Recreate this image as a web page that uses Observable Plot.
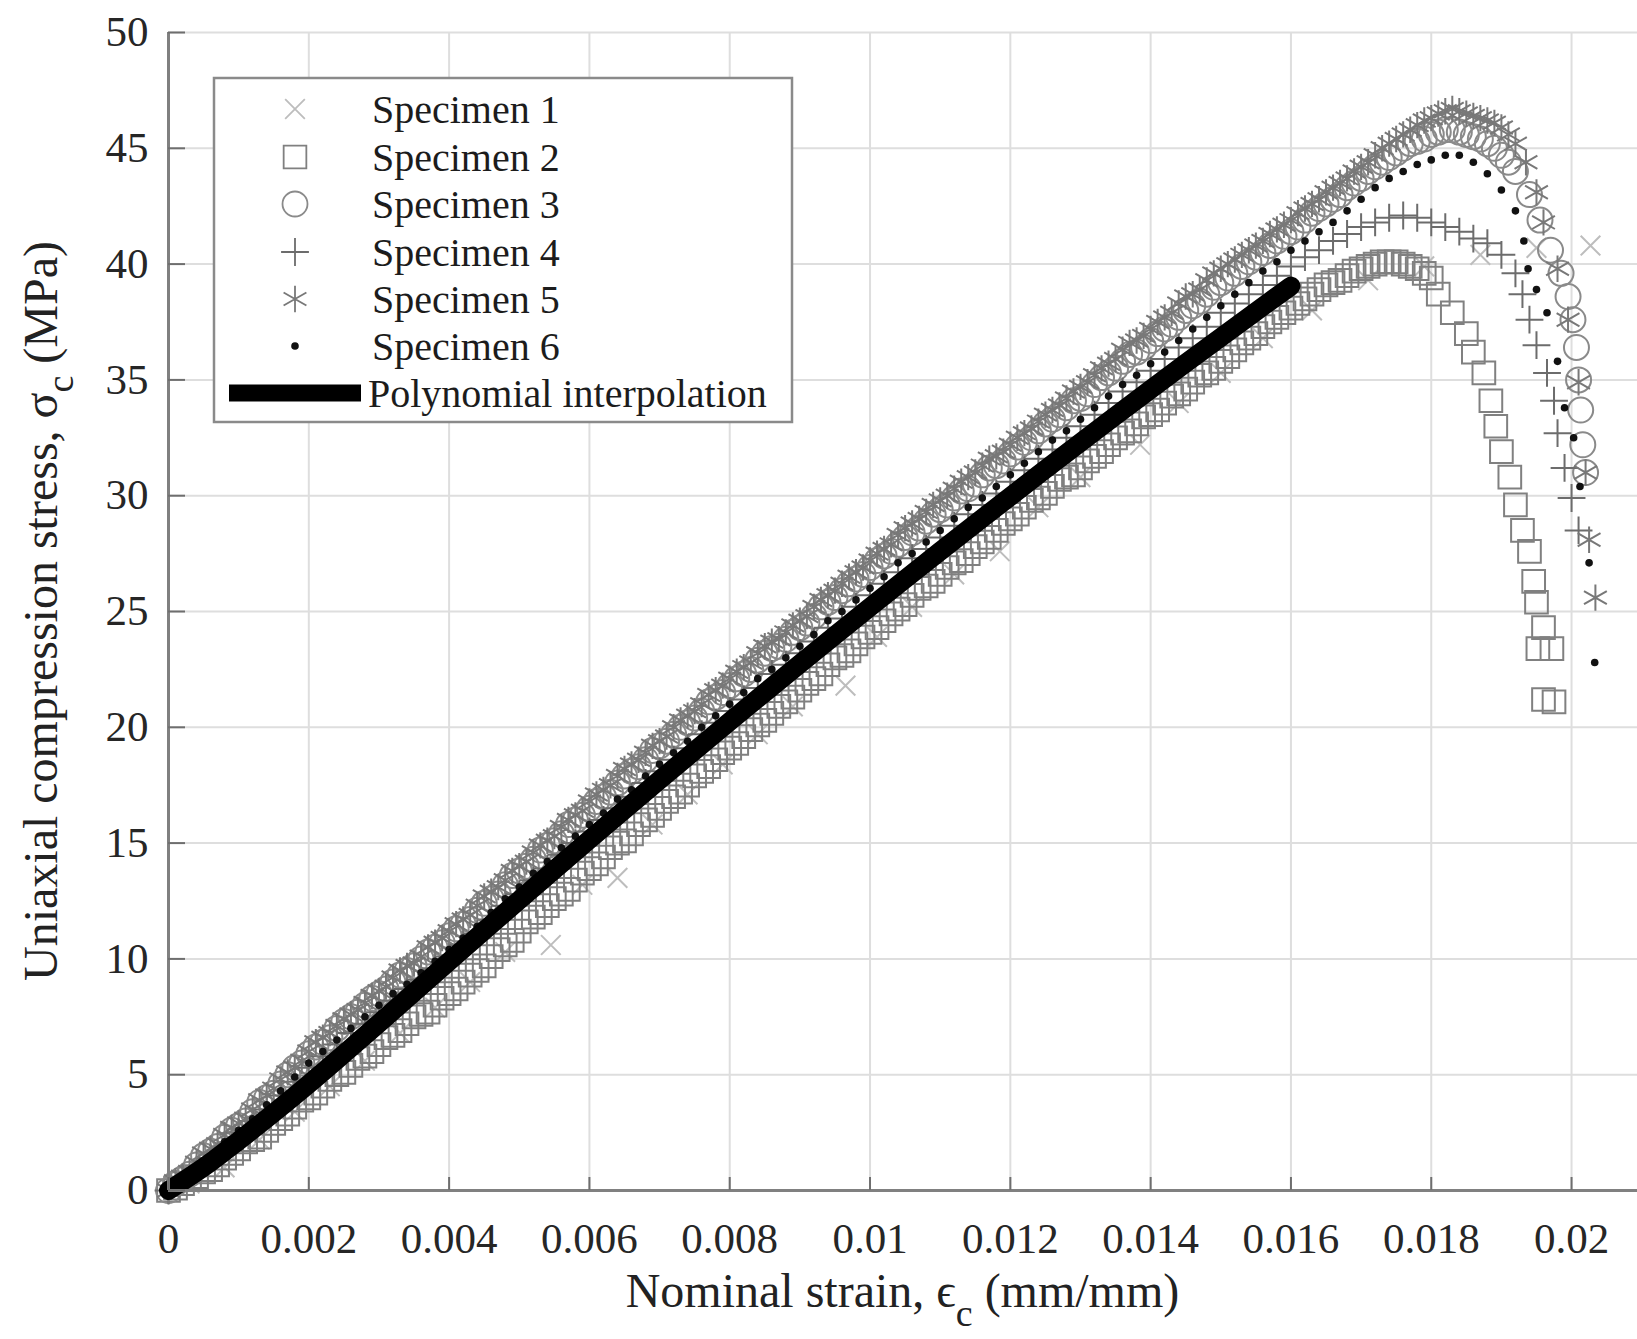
<!DOCTYPE html>
<html>
<head>
<meta charset="utf-8">
<script src="https://cdn.jsdelivr.net/npm/d3@7"></script>
<script src="https://cdn.jsdelivr.net/npm/@observablehq/plot@0.6"></script>
<style>
  html, body { margin: 0; padding: 0; background: #ffffff; }
  #chart svg { display: block; }
</style>
</head>
<body>
<div id="chart"></div>
<script>
// ---- Axis ticks ----
const xTicks = [0, 0.002, 0.004, 0.006, 0.008, 0.01, 0.012, 0.014, 0.016, 0.018, 0.02];
const xTickLabels = ["0", "0.002", "0.004", "0.006", "0.008", "0.01", "0.012", "0.014", "0.016", "0.018", "0.02"];
const yTicks = [0, 5, 10, 15, 20, 25, 30, 35, 40, 45, 50];
const yTickLabels = ["0", "5", "10", "15", "20", "25", "30", "35", "40", "45", "50"];

// ---- Series names ----
const specimenNames = ["Specimen 1", "Specimen 2", "Specimen 3", "Specimen 4", "Specimen 5", "Specimen 6"];
const fitName = "Polynomial interpolation";

// ---- Rising branch: strain readings (mm/mm) shared by specimens 2-6 ----
const riseStrain = [
  0, 0.0002, 0.0004, 0.0006, 0.0008, 0.001, 0.0012, 0.0014, 0.0016, 0.0018,
  0.002, 0.0022, 0.0024, 0.0026, 0.0028, 0.003, 0.0032, 0.0034, 0.0036, 0.0038,
  0.004, 0.0042, 0.0044, 0.0046, 0.0048, 0.005, 0.0052, 0.0054, 0.0056, 0.0058,
  0.006, 0.0062, 0.0064, 0.0066, 0.0068, 0.007, 0.0072, 0.0074, 0.0076, 0.0078,
  0.008, 0.0082, 0.0084, 0.0086, 0.0088, 0.009, 0.0092, 0.0094, 0.0096, 0.0098,
  0.01, 0.0102, 0.0104, 0.0106, 0.0108, 0.011, 0.0112, 0.0114, 0.0116, 0.0118,
  0.012, 0.0122, 0.0124, 0.0126, 0.0128, 0.013, 0.0132, 0.0134, 0.0136, 0.0138,
  0.014, 0.0142, 0.0144, 0.0146, 0.0148, 0.015
];
// Intermediate readings recorded by specimens 2, 3 and 5
const riseStrainMid = [
  0.0001, 0.0003, 0.0005, 0.0007, 0.0009, 0.0011, 0.0013, 0.0015, 0.0017, 0.0019,
  0.0021, 0.0023, 0.0025, 0.0027, 0.0029, 0.0031, 0.0033, 0.0035, 0.0037, 0.0039,
  0.0041, 0.0043, 0.0045, 0.0047, 0.0049, 0.0051, 0.0053, 0.0055, 0.0057, 0.0059,
  0.0061, 0.0063, 0.0065, 0.0067, 0.0069, 0.0071, 0.0073, 0.0075, 0.0077, 0.0079,
  0.0081, 0.0083, 0.0085, 0.0087, 0.0089, 0.0091, 0.0093, 0.0095, 0.0097, 0.0099,
  0.0101, 0.0103, 0.0105, 0.0107, 0.0109, 0.0111, 0.0113, 0.0115, 0.0117, 0.0119,
  0.0121, 0.0123, 0.0125, 0.0127, 0.0129, 0.0131, 0.0133, 0.0135, 0.0137, 0.0139,
  0.0141, 0.0143, 0.0145, 0.0147, 0.0149
];

// Stress (MPa) on the rising branch
const spec2Rise = [
  0.0, 0.3, 0.6, 0.9, 1.4, 1.8, 2.2, 2.6, 3.1, 3.6,
  4.0, 4.5, 5.0, 5.4, 5.8, 6.3, 6.7, 7.2, 7.6, 8.0,
  8.5, 9.0, 9.5, 10.1, 10.6, 11.2, 11.8, 12.3, 12.8, 13.4,
  13.9, 14.4, 15.0, 15.4, 16.0, 16.5, 17.0, 17.5, 18.1, 18.6,
  19.1, 19.6, 20.1, 20.6, 21.1, 21.6, 22.1, 22.7, 23.1, 23.6,
  24.1, 24.6, 25.1, 25.7, 26.1, 26.6, 27.1, 27.5, 28.0, 28.5,
  29.0, 29.5, 29.9, 30.4, 30.8, 31.2, 31.7, 32.2, 32.7, 33.1,
  33.5, 34.0, 34.4, 34.9, 35.3, 35.8
];
const spec2RiseMid = [
  0.1, 0.5, 0.8, 1.1, 1.6, 2.1, 2.3, 2.9, 3.3, 3.9,
  4.2, 4.8, 5.1, 5.7, 6.0, 6.6, 6.9, 7.5, 7.7, 8.3,
  8.7, 9.3, 9.7, 10.4, 10.8, 11.6, 12.0, 12.6, 13.0, 13.7,
  14.1, 14.8, 15.1, 15.8, 16.2, 16.8, 17.2, 17.9, 18.3, 18.9,
  19.3, 19.9, 20.3, 20.9, 21.3, 21.9, 22.3, 23.0, 23.3, 23.9,
  24.3, 24.9, 25.3, 26.0, 26.3, 26.9, 27.2, 27.8, 28.2, 28.8,
  29.2, 29.8, 30.1, 30.7, 30.9, 31.5, 31.9, 32.5, 32.8, 33.4,
  33.7, 34.3, 34.6, 35.2, 35.5
];
const spec3Rise = [
  0.0, 0.5, 1.1, 1.7, 2.3, 2.8, 3.4, 4.0, 4.6, 5.3,
  5.9, 6.4, 7.0, 7.5, 8.0, 8.5, 9.0, 9.5, 10.0, 10.5,
  11.0, 11.5, 12.1, 12.6, 13.2, 13.8, 14.3, 14.9, 15.4, 16.0,
  16.5, 17.0, 17.6, 18.1, 18.6, 19.2, 19.7, 20.2, 20.7, 21.3,
  21.8, 22.3, 22.9, 23.4, 23.8, 24.3, 24.8, 25.4, 25.9, 26.4,
  26.9, 27.4, 27.9, 28.4, 28.9, 29.4, 29.9, 30.3, 30.9, 31.3,
  31.8, 32.3, 32.8, 33.3, 33.8, 34.2, 34.8, 35.3, 35.8, 36.2,
  36.7, 37.2, 37.7, 38.2, 38.7, 39.2
];
const spec3RiseMid = [
  0.3, 0.7, 1.5, 1.9, 2.6, 3.0, 3.8, 4.2, 5.0, 5.5,
  6.2, 6.6, 7.3, 7.7, 8.3, 8.7, 9.3, 9.7, 10.3, 10.7,
  11.3, 11.7, 12.4, 12.8, 13.6, 14.0, 14.7, 15.1, 15.8, 16.2,
  16.8, 17.2, 17.9, 18.3, 19.0, 19.4, 20.0, 20.4, 21.1, 21.5,
  22.1, 22.5, 23.2, 23.5, 24.1, 24.5, 25.2, 25.6, 26.2, 26.6,
  27.2, 27.6, 28.2, 28.6, 29.2, 29.6, 30.2, 30.5, 31.2, 31.5,
  32.1, 32.5, 33.1, 33.5, 34.1, 34.4, 35.1, 35.5, 36.1, 36.4,
  37.0, 37.4, 38.0, 38.4, 39.0
];
const spec4Rise = [
  0.0, 0.5, 0.9, 1.4, 1.9, 2.5, 3.0, 3.5, 4.1, 4.7,
  5.3, 5.8, 6.3, 6.8, 7.2, 7.7, 8.2, 8.7, 9.1, 9.6,
  10.1, 10.6, 11.1, 11.7, 12.3, 12.8, 13.4, 13.9, 14.5, 15.0,
  15.5, 16.0, 16.5, 17.0, 17.6, 18.1, 18.6, 19.1, 19.7, 20.2,
  20.7, 21.2, 21.7, 22.3, 22.7, 23.2, 23.7, 24.3, 24.7, 25.2,
  25.7, 26.2, 26.7, 27.3, 27.7, 28.2, 28.7, 29.2, 29.6, 30.1,
  30.6, 31.1, 31.6, 32.0, 32.5, 33.0, 33.5, 34.0, 34.5, 34.9,
  35.4, 35.9, 36.4, 36.8, 37.3, 37.9
];
const spec5Rise = [
  0.0, 0.6, 1.2, 1.8, 2.4, 2.9, 3.5, 4.1, 4.8, 5.3,
  6.0, 6.6, 7.1, 7.6, 8.1, 8.6, 9.2, 9.7, 10.1, 10.7,
  11.2, 11.7, 12.3, 12.9, 13.4, 14.0, 14.6, 15.1, 15.7, 16.2,
  16.8, 17.3, 17.9, 18.4, 18.9, 19.4, 20.0, 20.5, 21.0, 21.6,
  22.1, 22.6, 23.2, 23.7, 24.1, 24.6, 25.2, 25.7, 26.2, 26.7,
  27.2, 27.7, 28.3, 28.8, 29.3, 29.8, 30.3, 30.8, 31.3, 31.7,
  32.2, 32.7, 33.2, 33.7, 34.2, 34.7, 35.2, 35.7, 36.3, 36.7,
  37.2, 37.7, 38.3, 38.7, 39.3, 39.8
];
const spec5RiseMid = [
  0.4, 0.8, 1.6, 2.0, 2.7, 3.1, 3.9, 4.4, 5.1, 5.6,
  6.4, 6.8, 7.4, 7.8, 8.4, 8.8, 9.5, 9.8, 10.5, 10.9,
  11.5, 11.9, 12.7, 13.1, 13.8, 14.2, 14.9, 15.3, 16.0, 16.4,
  17.1, 17.5, 18.2, 18.6, 19.2, 19.6, 20.3, 20.7, 21.4, 21.8,
  22.4, 22.8, 23.5, 23.8, 24.4, 24.8, 25.5, 25.9, 26.5, 26.9,
  27.5, 27.9, 28.6, 29.0, 29.6, 30.0, 30.6, 31.0, 31.6, 31.9,
  32.5, 32.9, 33.5, 33.9, 34.5, 34.9, 35.5, 35.9, 36.6, 36.9,
  37.5, 37.9, 38.6, 38.9, 39.6
];
const spec6Rise = [
  0.0, 0.5, 1.0, 1.4, 2.1, 2.6, 3.1, 3.7, 4.3, 4.9,
  5.5, 6.0, 6.5, 7.0, 7.5, 8.0, 8.5, 8.9, 9.4, 9.9,
  10.4, 10.9, 11.4, 12.0, 12.6, 13.1, 13.7, 14.2, 14.8, 15.3,
  15.8, 16.3, 16.9, 17.3, 17.9, 18.4, 18.9, 19.4, 20.0, 20.5,
  21.0, 21.5, 22.1, 22.5, 23.0, 23.5, 24.0, 24.6, 25.0, 25.5,
  26.0, 26.5, 27.1, 27.5, 28.0, 28.5, 29.0, 29.5, 29.9, 30.4,
  30.9, 31.4, 31.9, 32.4, 32.8, 33.3, 33.8, 34.3, 34.8, 35.2,
  35.7, 36.2, 36.7, 37.2, 37.7, 38.2
];

// ---- Peak and softening branch of each specimen ----
const spec2TailStrain = [0.0152, 0.0154, 0.0156, 0.0158, 0.016, 0.0162, 0.0164, 0.0166, 0.0168, 0.017,
  0.0172, 0.0174, 0.0176, 0.0178, 0.018, 0.0181, 0.0183, 0.0185, 0.0186, 0.01875,
  0.01885, 0.01892, 0.019, 0.01912, 0.0192, 0.0193, 0.0194, 0.01946, 0.0195, 0.0196,
  0.01952, 0.01972, 0.0196, 0.01975,
  0.0151, 0.0153, 0.0155, 0.0157, 0.0159, 0.0161, 0.0163, 0.0165, 0.0167, 0.0169,
  0.0171, 0.0173, 0.0175, 0.0177, 0.0179];
const spec2TailStress = [36.3, 36.8, 37.3, 37.7, 38.1, 38.5, 38.9, 39.2, 39.5, 39.8,
  40.0, 40.1, 40.0, 39.8, 39.4, 38.7, 37.9, 37.0, 36.2, 35.3,
  34.1, 33.0, 31.9, 30.8, 29.6, 28.5, 27.6, 26.3, 25.4, 24.3,
  23.4, 23.4, 21.2, 21.1,
  36.0, 36.6, 37.0, 37.5, 37.9, 38.3, 38.7, 39.1, 39.3, 39.7,
  39.9, 40.1, 40.1, 39.9, 39.6];

const spec3TailStrain = [0.0152, 0.0154, 0.0156, 0.0158, 0.016, 0.0162, 0.0164, 0.0166, 0.0168, 0.017,
  0.0172, 0.0174, 0.0176, 0.0178, 0.018, 0.0182, 0.0184, 0.0186, 0.0188, 0.019,
  0.0192, 0.0194, 0.01955, 0.0197, 0.01985, 0.01995, 0.02002, 0.02007, 0.0201, 0.02013,
  0.02016, 0.0202,
  0.0151, 0.0153, 0.0155, 0.0157, 0.0159, 0.0161, 0.0163, 0.0165, 0.0167, 0.0169,
  0.0171, 0.0173, 0.0175, 0.0177, 0.0179, 0.0181, 0.0183, 0.0185, 0.0187, 0.0189,
  0.0191];
const spec3TailStress = [39.6, 40.1, 40.5, 41.0, 41.4, 41.9, 42.4, 42.8, 43.3, 43.7,
  44.2, 44.6, 45.0, 45.3, 45.6, 45.8, 45.7, 45.5, 45.2, 44.7,
  44.0, 43.0, 41.9, 40.6, 39.6, 38.6, 37.6, 36.4, 35.0, 33.7,
  32.2, 31.0,
  39.4, 39.9, 40.3, 40.8, 41.2, 41.6, 42.2, 42.6, 43.0, 43.5,
  44.0, 44.4, 44.8, 45.2, 45.4, 45.7, 45.8, 45.6, 45.4, 45.0,
  44.4];

const spec4TailStrain = [0.0152, 0.0154, 0.0156, 0.0158, 0.016, 0.0162, 0.0164, 0.0166, 0.0168, 0.017,
  0.0172, 0.0174, 0.0176, 0.0178, 0.018, 0.0182, 0.0184, 0.0186, 0.0188, 0.019,
  0.0192, 0.0193, 0.0194, 0.0195, 0.01965, 0.01975, 0.0198, 0.0199, 0.02, 0.0201];
const spec4TailStress = [38.3, 38.7, 39.1, 39.5, 39.9, 40.3, 40.6, 41.0, 41.3, 41.6,
  41.8, 42.0, 42.1, 42.0, 41.8, 41.6, 41.4, 41.1, 40.9, 40.4,
  39.6, 38.7, 37.6, 36.5, 35.3, 34.1, 32.7, 31.2, 29.9, 28.5];

const spec5TailStrain = [0.0152, 0.0154, 0.0156, 0.0158, 0.016, 0.0162, 0.0164, 0.0166, 0.0168, 0.017,
  0.0172, 0.0174, 0.0176, 0.0178, 0.018, 0.0182, 0.0184, 0.0186, 0.0188, 0.019,
  0.0192, 0.01935, 0.0195, 0.0196, 0.0198, 0.01995, 0.0201, 0.0202, 0.02025, 0.02034,
  0.0151, 0.0153, 0.0155, 0.0157, 0.0159, 0.0161, 0.0163, 0.0165, 0.0167, 0.0169,
  0.0171, 0.0173, 0.0175, 0.0177, 0.0179, 0.0181, 0.0183, 0.0185, 0.0187, 0.0189,
  0.0191];
const spec5TailStress = [40.2, 40.6, 41.0, 41.5, 41.9, 42.4, 42.8, 43.3, 43.7, 44.2,
  44.7, 45.2, 45.6, 46.0, 46.3, 46.6, 46.6, 46.4, 46.2, 45.9,
  45.2, 44.4, 43.1, 41.8, 39.8, 37.6, 34.9, 31.0, 28.1, 25.6,
  40.0, 40.4, 40.8, 41.3, 41.7, 42.2, 42.6, 43.1, 43.5, 44.0,
  44.4, 45.0, 45.4, 45.8, 46.2, 46.5, 46.7, 46.5, 46.3, 46.1,
  45.6];

const spec6TailStrain = [0.0152, 0.0154, 0.0156, 0.0158, 0.016, 0.0162, 0.0164, 0.0166, 0.0168, 0.017,
  0.0172, 0.0174, 0.0176, 0.0178, 0.018, 0.0182, 0.0184, 0.0186, 0.0188, 0.019,
  0.0192, 0.01932, 0.01938, 0.0195, 0.01965, 0.0198, 0.0199, 0.02003, 0.02012, 0.02025,
  0.02033];
const spec6TailStress = [38.7, 39.2, 39.7, 40.1, 40.6, 41.0, 41.4, 41.8, 42.3, 42.8,
  43.3, 43.7, 44.0, 44.3, 44.5, 44.7, 44.7, 44.4, 43.9, 43.2,
  42.3, 41.0, 39.8, 38.9, 37.9, 35.8, 33.8, 32.5, 30.4, 27.1,
  22.8];

// ---- Specimen 1 (sparser record) ----
const spec1Strain = [0.0003, 0.0008, 0.0013, 0.0018, 0.0023, 0.0028, 0.0033, 0.0038, 0.0043, 0.0048,
  0.00545, 0.0059, 0.0064, 0.0069, 0.0074, 0.0079, 0.0084, 0.0089, 0.00965, 0.0101,
  0.0106, 0.0112, 0.01185, 0.0124, 0.013, 0.01385, 0.0144, 0.015, 0.0156, 0.0163,
  0.0171, 0.0179, 0.0187, 0.0195, 0.02027];
const spec1Stress = [0.3, 1.0, 2.2, 3.4, 4.5, 5.6, 6.8, 7.9, 9.0, 10.3,
  10.6, 13.2, 13.5, 15.8, 17.1, 18.4, 19.7, 20.9, 21.8, 23.9,
  25.2, 26.6, 27.6, 29.5, 30.8, 32.2, 34.0, 35.3, 36.8, 38.0,
  39.3, 39.9, 40.4, 40.7, 40.8];

// ---- Polynomial interpolation of the pre-peak response ----
const fitStrain = [0, 0.0005, 0.001, 0.0015, 0.002, 0.0025, 0.003, 0.0035, 0.004, 0.0045,
  0.005, 0.0055, 0.006, 0.0065, 0.007, 0.0075, 0.008, 0.0085, 0.009, 0.0095,
  0.01, 0.0105, 0.011, 0.0115, 0.012, 0.0125, 0.013, 0.0135, 0.014, 0.0145,
  0.015, 0.0155, 0.016];
const fitStress = [0, 1.00, 2.15, 3.35, 4.60, 5.90, 7.22, 8.55, 9.89, 11.22,
  12.54, 13.85, 15.15, 16.44, 17.72, 18.99, 20.25, 21.50, 22.74, 23.97,
  25.19, 26.40, 27.60, 28.79, 29.97, 31.14, 32.30, 33.45, 34.59, 35.72,
  36.84, 37.95, 39.05];

// ---- Build tidy rows ----
function toRows(name, strains, stresses) {
  return strains.map((e, i) => ({specimen: name, strain: e, stress: stresses[i]}));
}
const specimens = [
  toRows(specimenNames[0], spec1Strain, spec1Stress),
  toRows(specimenNames[1], riseStrain.concat(riseStrainMid, spec2TailStrain), spec2Rise.concat(spec2RiseMid, spec2TailStress)),
  toRows(specimenNames[2], riseStrain.concat(riseStrainMid, spec3TailStrain), spec3Rise.concat(spec3RiseMid, spec3TailStress)),
  toRows(specimenNames[3], riseStrain.concat(spec4TailStrain), spec4Rise.concat(spec4TailStress)),
  toRows(specimenNames[4], riseStrain.concat(riseStrainMid, spec5TailStrain), spec5Rise.concat(spec5RiseMid, spec5TailStress)),
  toRows(specimenNames[5], riseStrain.concat(spec6TailStrain), spec6Rise.concat(spec6TailStress))
];
const fitRows = toRows(fitName, fitStrain, fitStress);

// Marker styling per specimen
const markerStyles = [
  {symbol: "times",    r: 9,    stroke: "#bdbdbd", fill: "none", d3type: d3.symbolTimes},
  {symbol: "square",   r: 12.8, stroke: "#808080", fill: "none", d3type: d3.symbolSquare},
  {symbol: "circle",   r: 12.5, stroke: "#8a8a8a", fill: "none", d3type: d3.symbolCircle},
  {symbol: "plus",     r: 9,    stroke: "#6c6c6c", fill: "none", d3type: d3.symbolPlus},
  {symbol: "asterisk", r: 12.5, stroke: "#787878", fill: "none", d3type: d3.symbolAsterisk},
  {symbol: "circle",   r: 3.8,  stroke: "none",    fill: "#111111", d3type: d3.symbolCircle}
];

// ---- Layout ----
const W = 1637, H = 1339;
const M = {top: 32, right: 0, bottom: 149, left: 168};
const frameW = W - M.left - M.right;
const frameH = H - M.top - M.bottom;
const FONT = "'Liberation Serif', 'Times New Roman', Times, serif";
const AXIS_COLOR = "#808080";

const chart = Plot.plot({
  width: W,
  height: H,
  marginTop: M.top,
  marginRight: M.right,
  marginBottom: M.bottom,
  marginLeft: M.left,
  x: {domain: [0, 0.02094]},
  y: {domain: [0, 50]},
  style: {fontFamily: FONT, fontSize: "43px", color: "#262626", background: "#ffffff"},
  marks: [
    // grid
    Plot.ruleX(xTicks, {stroke: "#dedede", strokeWidth: 2}),
    Plot.ruleY(yTicks, {stroke: "#dedede", strokeWidth: 2}),
    // measured specimens
    ...specimens.map((rows, k) => Plot.dot(rows, {
      x: "strain", y: "stress",
      symbol: markerStyles[k].symbol,
      r: markerStyles[k].r,
      stroke: markerStyles[k].stroke,
      fill: markerStyles[k].fill,
      strokeWidth: 2
    })),
    // fitted curve
    Plot.line(fitRows, {x: "strain", y: "stress", stroke: "#000000", strokeWidth: 19,
      strokeLinecap: "round", curve: "monotone-x"}),
    // axis lines
    Plot.ruleX([0], {stroke: AXIS_COLOR, strokeWidth: 3}),
    Plot.ruleY([0], {stroke: AXIS_COLOR, strokeWidth: 3}),
    // inward ticks
    Plot.ruleX(xTicks, {insetTop: frameH - 13, stroke: "#6e6e6e", strokeWidth: 2}),
    Plot.ruleY(yTicks, {insetRight: frameW - 17, stroke: "#6e6e6e", strokeWidth: 2}),
    // tick labels
    Plot.axisX(xTicks, {tickSize: 0, tickPadding: 32, label: null,
      tickFormat: d => xTickLabels[xTicks.indexOf(d)]}),
    Plot.axisY(yTicks, {tickSize: 0, tickPadding: 20, label: null,
      tickFormat: d => yTickLabels[yTicks.indexOf(d)]})
  ]
});

document.getElementById("chart").appendChild(chart);

const svg = d3.select(chart);

// ---- Axis titles (with subscripts) ----
const xTitle = svg.append("text")
  .attr("x", M.left + frameW / 2)
  .attr("y", 1307)
  .attr("text-anchor", "middle")
  .attr("fill", "#222222")
  .style("font-family", FONT)
  .style("font-size", "48px");
xTitle.append("tspan").text("Nominal strain, \u03F5");
xTitle.append("tspan").attr("dy", 19).style("font-size", "38px").text("c");
xTitle.append("tspan").attr("dy", -19).text(" (mm/mm)");

const yTitle = svg.append("text")
  .attr("transform", `translate(57,${M.top + frameH / 2}) rotate(-90)`)
  .attr("text-anchor", "middle")
  .attr("fill", "#222222")
  .style("font-family", FONT)
  .style("font-size", "48px");
yTitle.append("tspan").text("Uniaxial compression stress, \u03C3");
yTitle.append("tspan").attr("dy", 16).style("font-size", "38px").text("c");
yTitle.append("tspan").attr("dy", -16).text(" (MPa)");

// ---- Legend box ----
const legend = svg.append("g").attr("class", "legend");
legend.append("rect")
  .attr("x", 214).attr("y", 78)
  .attr("width", 578).attr("height", 344)
  .attr("fill", "#ffffff")
  .attr("stroke", "#8a8a8a")
  .attr("stroke-width", 2.5);

const rowY = [109, 157, 204, 252, 299, 346, 393];
specimenNames.forEach((name, k) => {
  const st = markerStyles[k];
  legend.append("path")
    .attr("transform", `translate(295,${rowY[k]})`)
    .attr("d", d3.symbol(st.d3type, Math.PI * st.r * st.r)())
    .attr("fill", st.fill)
    .attr("stroke", st.stroke)
    .attr("stroke-width", 1.8);
  legend.append("text")
    .attr("x", 372).attr("y", rowY[k]).attr("dy", "0.34em")
    .attr("text-anchor", "start")
    .attr("fill", "#1c1c1c")
    .style("font-family", FONT)
    .style("font-size", "40px")
    .text(name);
});
legend.append("line")
  .attr("x1", 229).attr("x2", 361)
  .attr("y1", rowY[6]).attr("y2", rowY[6])
  .attr("stroke", "#000000")
  .attr("stroke-width", 17);
legend.append("text")
  .attr("x", 368).attr("y", rowY[6]).attr("dy", "0.34em")
  .attr("text-anchor", "start")
  .attr("fill", "#1c1c1c")
  .style("font-family", FONT)
  .style("font-size", "40px")
  .text(fitName);
</script>
</body>
</html>
